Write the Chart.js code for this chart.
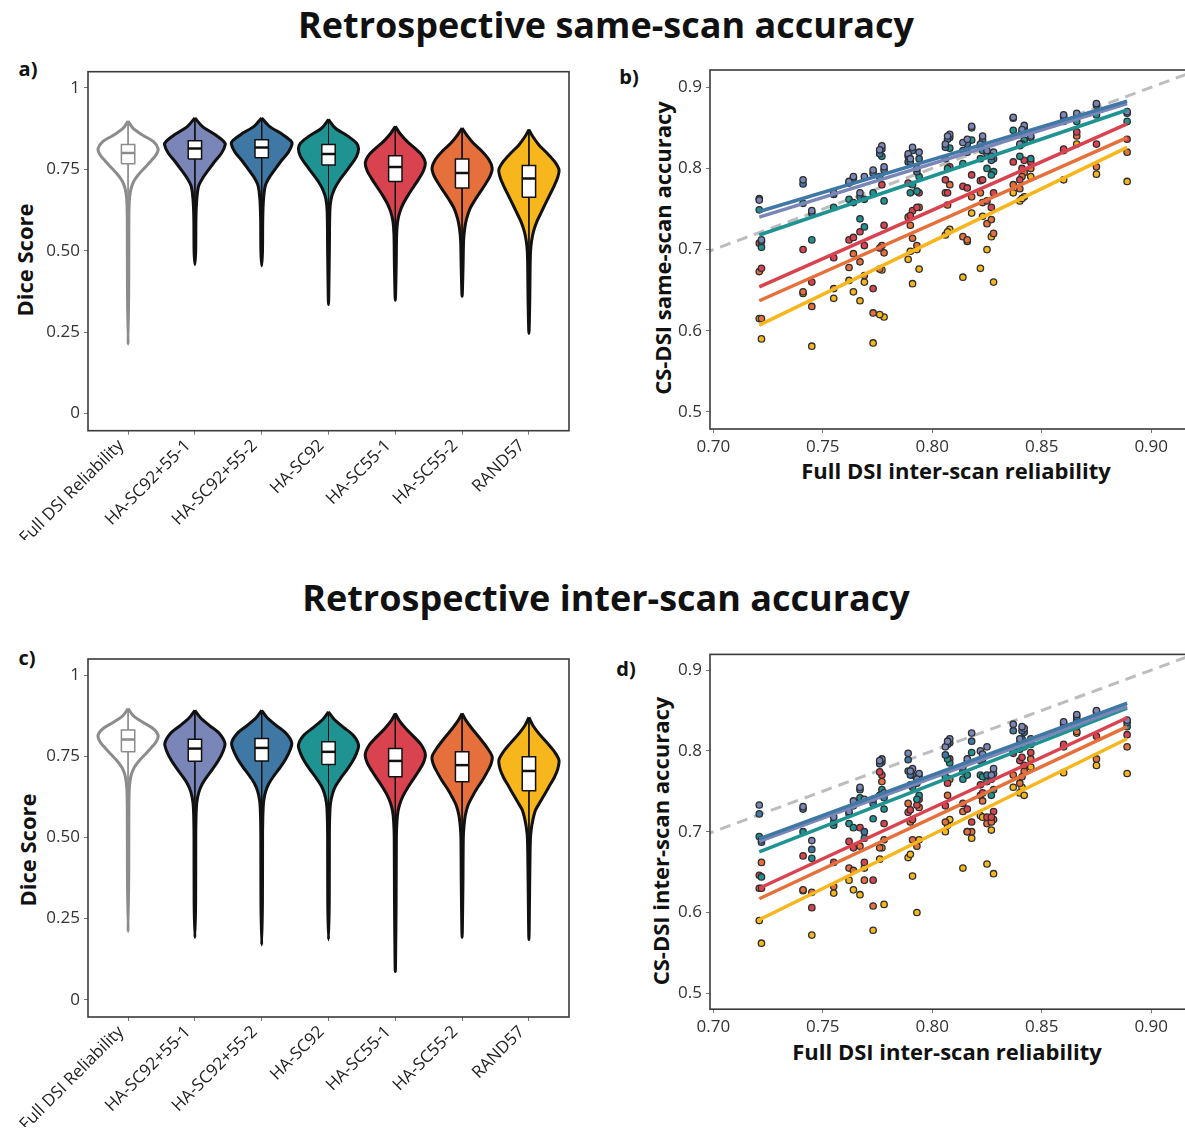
<!DOCTYPE html>
<html>
<head>
<meta charset="utf-8">
<script src="https://cdn.jsdelivr.net/npm/chart.js@4.4.1/dist/chart.umd.min.js"></script>
<style>
  html, body { margin: 0; padding: 0; background: #fff; overflow: hidden; }
  #page { position: relative; width: 1185px; height: 1135px; overflow: hidden; font-family: "Open Sans", sans-serif; color: #111; }
  .panel { position: absolute; }
  .txt { position: absolute; white-space: nowrap; font-weight: 700; transform: translate(-50%, -50%); }
  .rot { transform: translate(-50%, -50%) rotate(-90deg); }
</style>
</head>
<body>
<div id="page">
  <div class="txt" style="left:606px;top:24px;font-size:36px">Retrospective same-scan accuracy</div>
  <div class="txt" style="left:606px;top:597px;font-size:36px">Retrospective inter-scan accuracy</div>

  <div class="txt" style="left:28px;top:68px;font-size:20px">a)</div>
  <div class="txt" style="left:629px;top:76px;font-size:20px">b)</div>
  <div class="txt" style="left:27px;top:657px;font-size:20px">c)</div>
  <div class="txt" style="left:626px;top:668px;font-size:20px">d)</div>

  <div class="txt rot" style="left:24px;top:260px;font-size:22px">Dice Score</div>
  <div class="txt rot" style="left:27px;top:850px;font-size:22px">Dice Score</div>
  <div class="txt rot" style="left:662px;top:248px;font-size:22px">CS-DSI same-scan accuracy</div>
  <div class="txt rot" style="left:660px;top:841px;font-size:22px">CS-DSI inter-scan accuracy</div>
  <div class="txt" style="left:956px;top:470px;font-size:22px">Full DSI inter-scan reliability</div>
  <div class="txt" style="left:947px;top:1051px;font-size:22px">Full DSI inter-scan reliability</div>

  <div class="panel" style="left:0;top:55px"><canvas id="chartA" width="590" height="485"></canvas></div>
  <div class="panel" style="left:600px;top:55px"><canvas id="chartB" width="600" height="440"></canvas></div>
  <div class="panel" style="left:0;top:642px"><canvas id="chartC" width="590" height="485"></canvas></div>
  <div class="panel" style="left:600px;top:640px"><canvas id="chartD" width="600" height="440"></canvas></div>
</div>

<script>
// ---------------- DATA ----------------
const categories = ["Full DSI Reliability", "HA-SC92+55-1", "HA-SC92+55-2", "HA-SC92", "HA-SC55-1", "HA-SC55-2", "RAND57"];
const methodColors = ["#ffffff", "#7b86b8", "#3f78a4", "#1f9391", "#d9434f", "#e6703b", "#f7b61c"];

const diceTicks = [0, 0.25, 0.5, 0.75, 1];
const diceTickLabels = ["0", "0.25", "0.50", "0.75", "1"];

// violin outlines: y levels (top tip -> bottom tail) and half widths in category units
const sameViolinY = [
  [0.898, 0.875, 0.855, 0.835, 0.813, 0.795, 0.775, 0.755, 0.735, 0.715, 0.695, 0.675, 0.65, 0.6, 0.4, 0.212],
  [0.908, 0.882, 0.857, 0.836, 0.826, 0.80, 0.775, 0.75, 0.724, 0.698, 0.657, 0.6, 0.5, 0.458],
  [0.908, 0.883, 0.859, 0.839, 0.828, 0.803, 0.778, 0.753, 0.727, 0.70, 0.66, 0.6, 0.5, 0.454],
  [0.903, 0.877, 0.852, 0.83, 0.813, 0.79, 0.765, 0.74, 0.715, 0.69, 0.66, 0.62, 0.5, 0.335],
  [0.882, 0.86, 0.835, 0.81, 0.79, 0.77, 0.745, 0.72, 0.695, 0.67, 0.645, 0.62, 0.59, 0.55, 0.45, 0.348],
  [0.877, 0.855, 0.83, 0.805, 0.78, 0.754, 0.73, 0.705, 0.68, 0.655, 0.63, 0.6, 0.57, 0.53, 0.45, 0.36],
  [0.872, 0.85, 0.825, 0.8, 0.775, 0.749, 0.725, 0.7, 0.675, 0.65, 0.62, 0.59, 0.56, 0.53, 0.5, 0.45, 0.35, 0.246]
];
const sameViolinW = [
  [0, 0.08, 0.22, 0.38, 0.45, 0.42, 0.34, 0.25, 0.16, 0.09, 0.05, 0.03, 0.018, 0.012, 0.01, 0],
  [0, 0.11, 0.30, 0.43, 0.455, 0.40, 0.30, 0.21, 0.12, 0.055, 0.028, 0.016, 0.012, 0],
  [0, 0.11, 0.30, 0.43, 0.455, 0.40, 0.30, 0.21, 0.12, 0.055, 0.028, 0.016, 0.012, 0],
  [0, 0.1, 0.29, 0.42, 0.45, 0.42, 0.34, 0.25, 0.16, 0.09, 0.04, 0.02, 0.013, 0],
  [0, 0.07, 0.18, 0.32, 0.41, 0.45, 0.42, 0.35, 0.27, 0.19, 0.12, 0.07, 0.035, 0.02, 0.013, 0],
  [0, 0.07, 0.17, 0.3, 0.4, 0.45, 0.42, 0.35, 0.27, 0.19, 0.12, 0.07, 0.04, 0.022, 0.014, 0],
  [0, 0.06, 0.15, 0.27, 0.38, 0.45, 0.43, 0.38, 0.32, 0.26, 0.19, 0.12, 0.07, 0.04, 0.025, 0.018, 0.013, 0]
];
const sameQ3 = [0.826, 0.838, 0.841, 0.826, 0.792, 0.782, 0.762];
const sameMedian = [0.800, 0.814, 0.817, 0.797, 0.757, 0.739, 0.722];
const sameQ1 = [0.767, 0.782, 0.786, 0.763, 0.713, 0.693, 0.664];

const interViolinY = [
  [0.897, 0.875, 0.855, 0.835, 0.815, 0.795, 0.775, 0.755, 0.735, 0.715, 0.695, 0.675, 0.65, 0.6, 0.4, 0.21],
  [0.892, 0.87, 0.845, 0.82, 0.79, 0.765, 0.74, 0.715, 0.69, 0.665, 0.64, 0.61, 0.57, 0.5, 0.3, 0.192],
  [0.892, 0.87, 0.845, 0.82, 0.792, 0.767, 0.742, 0.717, 0.692, 0.667, 0.642, 0.612, 0.57, 0.5, 0.3, 0.169],
  [0.887, 0.865, 0.84, 0.815, 0.785, 0.76, 0.735, 0.71, 0.685, 0.66, 0.635, 0.605, 0.565, 0.5, 0.3, 0.185],
  [0.882, 0.86, 0.835, 0.81, 0.785, 0.756, 0.73, 0.705, 0.68, 0.655, 0.63, 0.605, 0.58, 0.55, 0.5, 0.3, 0.087],
  [0.882, 0.86, 0.835, 0.805, 0.775, 0.749, 0.725, 0.7, 0.675, 0.65, 0.625, 0.6, 0.57, 0.54, 0.5, 0.35, 0.192],
  [0.870, 0.845, 0.82, 0.79, 0.765, 0.738, 0.71, 0.685, 0.66, 0.635, 0.61, 0.585, 0.555, 0.525, 0.495, 0.4, 0.185]
];
const interViolinW = [
  [0, 0.08, 0.22, 0.38, 0.45, 0.42, 0.34, 0.25, 0.16, 0.09, 0.05, 0.03, 0.018, 0.012, 0.01, 0],
  [0, 0.08, 0.22, 0.37, 0.45, 0.42, 0.36, 0.28, 0.19, 0.11, 0.06, 0.03, 0.018, 0.013, 0.011, 0],
  [0, 0.08, 0.22, 0.37, 0.45, 0.42, 0.36, 0.28, 0.19, 0.11, 0.06, 0.03, 0.018, 0.013, 0.011, 0],
  [0, 0.08, 0.22, 0.37, 0.45, 0.42, 0.36, 0.28, 0.19, 0.11, 0.06, 0.03, 0.018, 0.013, 0.011, 0],
  [0, 0.06, 0.16, 0.28, 0.39, 0.45, 0.42, 0.35, 0.27, 0.19, 0.12, 0.07, 0.04, 0.025, 0.016, 0.012, 0],
  [0, 0.06, 0.15, 0.27, 0.38, 0.45, 0.43, 0.37, 0.3, 0.22, 0.15, 0.09, 0.05, 0.03, 0.018, 0.012, 0],
  [0, 0.06, 0.15, 0.28, 0.38, 0.45, 0.43, 0.38, 0.31, 0.24, 0.17, 0.1, 0.06, 0.035, 0.022, 0.014, 0]
];
const interQ3 = [0.831, 0.803, 0.805, 0.795, 0.774, 0.764, 0.749];
const interMedian = [0.802, 0.774, 0.776, 0.764, 0.736, 0.723, 0.705];
const interQ1 = [0.764, 0.735, 0.736, 0.725, 0.687, 0.672, 0.644];

// scatter panels: one x per subject, one y per method
const reliability = [0.721, 0.722, 0.741, 0.745, 0.755, 0.762, 0.764, 0.767, 0.769, 0.773, 0.777, 0.778, 0.789, 0.791, 0.794,
                     0.806, 0.808, 0.814, 0.818, 0.822, 0.825, 0.828, 0.837, 0.840, 0.842, 0.845, 0.860, 0.866, 0.875, 0.889,
                     0.776, 0.790, 0.793, 0.807, 0.816, 0.823, 0.827, 0.841];

const sameSC9255_1 = [0.761, 0.712, 0.786, 0.748, 0.770, 0.784, 0.790, 0.770, 0.790, 0.798, 0.828, 0.802, 0.818, 0.826, 0.820,
                      0.830, 0.842, 0.832, 0.852, 0.830, 0.822, 0.820, 0.863, 0.830, 0.853, 0.840, 0.866, 0.868, 0.880, 0.870,
                      0.823, 0.812, 0.800, 0.840, 0.836, 0.840, 0.815, 0.848];
const sameSC9255_2 = [0.763, 0.710, 0.781, 0.745, 0.768, 0.782, 0.788, 0.765, 0.762, 0.794, 0.824, 0.798, 0.815, 0.822, 0.812,
                      0.826, 0.838, 0.822, 0.850, 0.828, 0.818, 0.812, 0.862, 0.828, 0.850, 0.838, 0.864, 0.866, 0.878, 0.868,
                      0.818, 0.808, 0.796, 0.836, 0.830, 0.835, 0.810, 0.845];
const sameSC92 = [0.749, 0.703, 0.757, 0.712, 0.752, 0.762, 0.758, 0.738, 0.728, 0.770, 0.815, 0.760, 0.808, 0.780, 0.790,
                  0.812, 0.825, 0.806, 0.835, 0.812, 0.800, 0.796, 0.847, 0.815, 0.835, 0.812, 0.858, 0.858, 0.866, 0.858,
                  0.790, 0.770, 0.772, 0.800, 0.820, 0.822, 0.792, 0.830];
const sameSC55_1 = [0.708, 0.677, 0.700, 0.660, 0.690, 0.712, 0.715, 0.722, 0.705, 0.652, 0.780, 0.730, 0.782, 0.748, 0.770,
                    0.786, 0.802, 0.778, 0.792, 0.785, 0.760, 0.770, 0.808, 0.786, 0.810, 0.808, 0.824, 0.845, 0.830, 0.836,
                    0.702, 0.742, 0.752, 0.770, 0.776, 0.786, 0.752, 0.800];
const sameSC55_2 = [0.673, 0.615, 0.648, 0.630, 0.652, 0.678, 0.695, 0.685, 0.668, 0.622, 0.705, 0.696, 0.740, 0.714, 0.752,
                    0.770, 0.780, 0.716, 0.765, 0.770, 0.732, 0.720, 0.780, 0.775, 0.795, 0.800, 0.822, 0.840, 0.802, 0.820,
                    0.676, 0.730, 0.705, 0.755, 0.712, 0.758, 0.737, 0.790];
const sameRAND57 = [0.615, 0.590, 0.646, 0.581, 0.640, 0.662, 0.648, 0.637, 0.660, 0.585, 0.675, 0.617, 0.688, 0.658, 0.676,
                    0.718, 0.725, 0.666, 0.745, 0.677, 0.700, 0.660, 0.770, 0.760, 0.765, 0.790, 0.786, 0.830, 0.793, 0.784,
                    0.620, 0.698, 0.700, 0.722, 0.710, 0.741, 0.716, 0.763];

const interSC9255_1 = [0.733, 0.690, 0.731, 0.689, 0.718, 0.725, 0.738, 0.755, 0.740, 0.740, 0.790, 0.748, 0.797, 0.778, 0.772,
                       0.805, 0.815, 0.780, 0.822, 0.800, 0.805, 0.778, 0.833, 0.815, 0.828, 0.815, 0.836, 0.845, 0.850, 0.838,
                       0.788, 0.775, 0.765, 0.812, 0.790, 0.796, 0.770, 0.830];
const interSC9255_2 = [0.722, 0.687, 0.728, 0.678, 0.712, 0.722, 0.732, 0.752, 0.700, 0.735, 0.786, 0.742, 0.789, 0.770, 0.768,
                       0.795, 0.810, 0.775, 0.812, 0.788, 0.770, 0.772, 0.825, 0.810, 0.823, 0.810, 0.834, 0.842, 0.848, 0.835,
                       0.784, 0.770, 0.760, 0.808, 0.786, 0.790, 0.765, 0.825];
const interSC92 = [0.694, 0.644, 0.700, 0.667, 0.708, 0.710, 0.705, 0.742, 0.692, 0.716, 0.752, 0.728, 0.775, 0.755, 0.745,
                   0.768, 0.785, 0.765, 0.798, 0.770, 0.762, 0.752, 0.800, 0.802, 0.805, 0.808, 0.830, 0.838, 0.842, 0.830,
                   0.745, 0.758, 0.740, 0.790, 0.770, 0.768, 0.745, 0.815];
const interSC55_1 = [0.646, 0.630, 0.670, 0.606, 0.662, 0.688, 0.680, 0.705, 0.662, 0.640, 0.770, 0.710, 0.724, 0.715, 0.740,
                     0.732, 0.790, 0.735, 0.712, 0.758, 0.718, 0.725, 0.797, 0.788, 0.782, 0.798, 0.808, 0.830, 0.818, 0.820,
                     0.774, 0.727, 0.733, 0.760, 0.728, 0.748, 0.718, 0.792];
const interSC55_2 = [0.630, 0.662, 0.628, 0.625, 0.632, 0.655, 0.652, 0.682, 0.640, 0.608, 0.762, 0.690, 0.735, 0.690, 0.730,
                     0.712, 0.765, 0.725, 0.700, 0.745, 0.710, 0.715, 0.770, 0.760, 0.775, 0.790, 0.805, 0.824, 0.790, 0.805,
                     0.680, 0.712, 0.682, 0.745, 0.700, 0.738, 0.712, 0.768];
const interRAND57 = [0.590, 0.562, 0.627, 0.572, 0.624, 0.640, 0.628, 0.622, 0.655, 0.578, 0.680, 0.610, 0.668, 0.645, 0.690,
                     0.700, 0.715, 0.655, 0.692, 0.720, 0.660, 0.648, 0.755, 0.748, 0.745, 0.780, 0.773, 0.822, 0.782, 0.772,
                     0.666, 0.672, 0.600, 0.708, 0.700, 0.718, 0.702, 0.755];

// regression lines (same order as the methods)
const fitX = [0.721, 0.889];
const sameFitStart = [0.740, 0.747, 0.718, 0.654, 0.637, 0.607];
const sameFitEnd = [0.880, 0.883, 0.872, 0.855, 0.838, 0.826];
const interFitStart = [0.688, 0.691, 0.675, 0.630, 0.617, 0.591];
const interFitEnd = [0.855, 0.859, 0.853, 0.841, 0.830, 0.815];

const identityLine = [0.68, 0.95];
const reliabilityTicks = [0.70, 0.75, 0.80, 0.85, 0.90];
const accuracyTicks = [0.5, 0.6, 0.7, 0.8, 0.9];

// ---------------- HELPERS ----------------
const FONT = "'Open Sans', sans-serif";

const frame = {
  id: "frame",
  afterDatasetsDraw(chart) {
    const { ctx, chartArea: a } = chart;
    ctx.save();
    ctx.strokeStyle = "#3a3a3a";
    ctx.lineWidth = 1.6;
    ctx.strokeRect(a.left, a.top, a.right - a.left, a.bottom - a.top);
    ctx.restore();
  }
};

function violinOutline(i, ys, ws) {
  const pts = [];
  for (let k = 0; k < ys.length; k++) pts.push({ x: i + ws[k], y: ys[k] });
  for (let k = ys.length - 2; k >= 0; k--) pts.push({ x: i - ws[k], y: ys[k] });
  return pts;
}

function violinChart(id, ys, ws, q1, med, q3, topPad, xHeight) {
  const datasets = [];

  categories.forEach((name, i) => {
    const edge = i === 0 ? "#8c8c8c" : "#111111";
    const tip = ys[i][0];
    const tail = ys[i][ys[i].length - 1];

    datasets.push({
      data: violinOutline(i, ys[i], ws[i]),
      showLine: true, fill: "shape", tension: 0.3,
      backgroundColor: methodColors[i], borderColor: edge, borderWidth: 3,
      borderJoinStyle: "round", pointRadius: 0, order: 4
    });
    datasets.push({
      data: [{ x: i, y: tip }, { x: i, y: tail }],
      showLine: true, borderColor: edge, borderWidth: 1, pointRadius: 0, order: 3
    });
    datasets.push({
      data: [{ x: i - 0.1, y: q1[i] }, { x: i + 0.1, y: q1[i] }, { x: i + 0.1, y: q3[i] }, { x: i - 0.1, y: q3[i] }, { x: i - 0.1, y: q1[i] }],
      showLine: true, fill: "shape", backgroundColor: "#ffffff",
      borderColor: edge, borderWidth: 1.5, pointRadius: 0, order: 2
    });
    datasets.push({
      data: [{ x: i - 0.1, y: med[i] }, { x: i + 0.1, y: med[i] }],
      showLine: true, borderColor: edge, borderWidth: 2.5, pointRadius: 0, order: 1
    });
  });

  new Chart(document.getElementById(id), {
    type: "scatter",
    data: { datasets },
    options: {
      responsive: false,
      animation: false,
      layout: { padding: { top: topPad, right: 21, left: 0, bottom: 0 }, autoPadding: false },
      plugins: { legend: { display: false }, tooltip: { enabled: false } },
      scales: {
        x: {
          type: "linear", min: -0.6, max: 6.6,
          afterBuildTicks: s => { s.ticks = categories.map((c, i) => ({ value: i })); },
          afterFit: s => { s.height = xHeight; },
          ticks: {
            autoSkip: false, minRotation: 45, maxRotation: 45, padding: 1, labelOffset: -7,
            color: "#222", font: { family: FONT, size: 17 },
            callback: v => categories[v]
          },
          grid: { drawOnChartArea: false, tickLength: 4, color: "#777" },
          border: { display: false }
        },
        y: {
          type: "linear", min: -0.053, max: 1.05,
          afterBuildTicks: s => { s.ticks = diceTicks.map(v => ({ value: v })); },
          afterFit: s => { s.width = 88; },
          ticks: {
            padding: 4, color: "#333", font: { family: FONT, size: 17 },
            callback: (v, idx) => diceTickLabels[idx]
          },
          grid: { drawOnChartArea: false, tickLength: 4, color: "#777" },
          border: { display: false }
        }
      }
    },
    plugins: [frame]
  });
}

function scatterChart(id, series, fitStart, fitEnd, yMin, yMax, topPad, xHeight) {
  const colors = methodColors.slice(1);
  const datasets = [];

  datasets.push({
    data: identityLine.map(v => ({ x: v, y: v })),
    showLine: true, borderColor: "#bdbdbd", borderWidth: 3, borderDash: [11, 7],
    pointRadius: 0, order: 20
  });

  series.forEach((vals, k) => {
    datasets.push({
      data: reliability.map((x, j) => ({ x: x, y: vals[j] })),
      showLine: false, pointRadius: 3.2, pointBorderWidth: 1.3,
      pointBorderColor: "#2e2e2e", pointBackgroundColor: colors[k],
      order: 10 + k
    });
  });

  const lineOrder = [2, 1, 3, 4, 5, 6];
  fitStart.forEach((y0, k) => {
    datasets.push({
      data: [{ x: fitX[0], y: y0 }, { x: fitX[1], y: fitEnd[k] }],
      showLine: true, borderColor: colors[k], borderWidth: 3.5,
      pointRadius: 0, order: lineOrder[k]
    });
  });

  new Chart(document.getElementById(id), {
    type: "scatter",
    data: { datasets },
    options: {
      responsive: false,
      animation: false,
      layout: { padding: { top: topPad, right: 5, left: 0, bottom: 0 }, autoPadding: false },
      plugins: { legend: { display: false }, tooltip: { enabled: false } },
      scales: {
        x: {
          type: "linear", min: 0.6985, max: 0.92,
          afterBuildTicks: s => { s.ticks = reliabilityTicks.map(v => ({ value: v })); },
          afterFit: s => { s.height = xHeight; },
          ticks: {
            padding: 4, color: "#333", font: { family: FONT, size: 17 },
            callback: v => v.toFixed(2)
          },
          grid: { drawOnChartArea: false, tickLength: 4, color: "#777" },
          border: { display: false }
        },
        y: {
          type: "linear", min: yMin, max: yMax,
          afterBuildTicks: s => { s.ticks = accuracyTicks.map(v => ({ value: v })); },
          afterFit: s => { s.width = 110; },
          ticks: {
            padding: 4, color: "#333", font: { family: FONT, size: 17 },
            callback: v => v.toFixed(1)
          },
          grid: { drawOnChartArea: false, tickLength: 4, color: "#777" },
          border: { display: false }
        }
      }
    },
    plugins: [frame]
  });
}

// ---------------- DRAW ----------------
violinChart("chartA", sameViolinY, sameViolinW, sameQ1, sameMedian, sameQ3, 16.7, 109.3);
violinChart("chartC", interViolinY, interViolinW, interQ1, interMedian, interQ3, 17, 110);

scatterChart("chartB",
  [sameSC9255_1, sameSC9255_2, sameSC92, sameSC55_1, sameSC55_2, sameRAND57],
  sameFitStart, sameFitEnd, 0.479, 0.9213, 15, 66);
scatterChart("chartD",
  [interSC9255_1, interSC9255_2, interSC92, interSC55_1, interSC55_2, interRAND57],
  interFitStart, interFitEnd, 0.4803, 0.9194, 14.4, 70.8);
</script>
</body>
</html>
